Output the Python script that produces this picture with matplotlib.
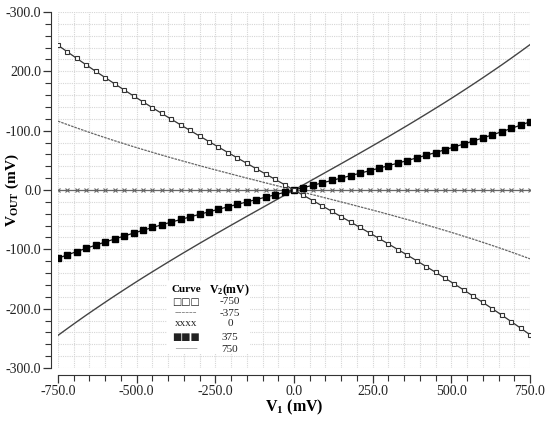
import matplotlib
matplotlib.use("Agg")
import matplotlib.pyplot as plt
from matplotlib.ticker import MultipleLocator, FixedLocator, FixedFormatter
from matplotlib.patches import Rectangle

plt.rcParams['font.family'] = ['Liberation Serif', 'DejaVu Sans']
plt.rcParams['mathtext.fontset'] = 'custom'
plt.rcParams['mathtext.rm'] = 'Liberation Serif'
plt.rcParams['mathtext.bf'] = 'Liberation Serif:bold'

# V1 sweep (mV), one point every 30 mV
v1 = list(range(-750, 751, 30))

half_750 = [0, 8.8, 17.7, 26.6, 35.5, 44.4, 53.4, 62.4, 71.5, 80.7, 89.9, 99.3, 108.7,
            118.3, 128.0, 137.8, 147.7, 157.8, 168.1, 178.5, 189.1, 199.9, 210.8,
            222.0, 233.4, 245.0]
half_m750 = [0, 9.0, 17.9, 26.9, 35.9, 45.0, 54.0, 63.2, 72.3, 81.6, 90.9, 100.3, 109.7,
             119.3, 129.0, 138.7, 148.6, 158.6, 168.7, 179.0, 189.4, 200.0, 210.7,
             221.7, 232.7, 244.0]
half_375 = [0, 4.0, 8.0, 12.0, 16.1, 20.1, 24.2, 28.3, 32.5, 36.7, 41.0, 45.3, 49.7,
            54.1, 58.6, 63.2, 67.9, 72.7, 77.6, 82.6, 87.7, 92.9, 98.2, 103.7, 109.3, 115.0]
half_m375 = [0, 4.0, 8.0, 12.0, 16.1, 20.1, 24.2, 28.4, 32.5, 36.7, 41.0, 45.4, 49.8,
             54.2, 58.8, 63.5, 68.2, 73.0, 78.0, 83.0, 88.2, 93.5, 98.9, 104.5, 110.2, 116.0]

def full(h, sign):
    neg = [-v for v in reversed(h[1:])]
    vals = neg + h
    return [sign * v for v in vals]

vout_m750 = full(half_m750, -1)
vout_m375 = full(half_m375, -1)
vout_0 = [0.0] * len(v1)
vout_375 = full(half_375, 1)
vout_750 = full(half_750, 1)

ytick_vals = [-300, -200, -100, 0, 100, 200, 300]
ytick_labels = ["-300.0", "-200.0", "-100.0", "0.0", "-100.0", "200.0", "-300.0"]
xtick_vals = [-750, -500, -250, 0, 250, 500, 750]
xtick_labels = ["-750.0", "-500.0", "-250.0", "0.0", "250.0", "500.0", "750.0"]

legend_syms = ["□□□", "------", "xxxx", "■■■", "——"]
legend_vals = ["-750", "-375", "0", "375", "750"]

W, H = 545, 421
fig = plt.figure(figsize=(W / 100, H / 100), dpi=100)
ax = fig.add_axes([58 / W, 1 - 368 / H, 472 / W, 356 / H])

def P(px, py):
    return (px / W, 1 - py / H)

ax.set_xlim(-750, 750)
ax.set_ylim(-300, 300)

ax.xaxis.set_major_locator(FixedLocator(xtick_vals))
ax.xaxis.set_major_formatter(FixedFormatter(xtick_labels))
ax.xaxis.set_minor_locator(MultipleLocator(50))
ax.yaxis.set_major_locator(FixedLocator(ytick_vals))
ax.yaxis.set_major_formatter(FixedFormatter(ytick_labels))
ax.yaxis.set_minor_locator(MultipleLocator(20))

ax.grid(True, which='both', color='#d6d6d6', linestyle=(0, (1, 1)), linewidth=0.8)
ax.set_axisbelow(True)

for s in ['top', 'right']:
    ax.spines[s].set_visible(False)
ax.spines['left'].set_position(('outward', 5))
ax.spines['bottom'].set_position(('outward', 5))
ax.spines['left'].set_color('#333333')
ax.spines['bottom'].set_color('#333333')

ax.tick_params(which='major', length=6, width=0.9, color='#333333', labelsize=10,
               labelcolor='#222222')
ax.tick_params(which='minor', length=4, width=0.8, color='#333333')
ax.tick_params(axis='x', pad=1)
ax.tick_params(axis='y', pad=1)

ax.plot(v1, vout_750, color='#444444', lw=1.0)
ax.plot(v1, vout_m375, color='#666666', lw=0.9, linestyle=(0, (2, 0.8)))
ax.plot(v1, vout_0, color='#666666', lw=0.9, marker='x', ms=3.5, mew=0.8)
ax.plot(v1, vout_375, color='#111111', lw=0.9, marker='s', ms=3.8, mfc='#000000', mec='#000000')
ax.plot(v1, vout_m750, color='#333333', lw=0.9, marker='s', ms=3.5, mfc='white', mec='#333333', mew=0.8)

ax.set_xlabel(r'$\mathbf{V_1}$ (mV)', fontsize=11.5, fontweight='bold')
ax.xaxis.set_label_coords(*P(294, 407), transform=fig.transFigure)
ax.set_ylabel(r'$\mathbf{V_{OUT}}$ (mV)', fontsize=11, fontweight='bold')
ax.yaxis.set_label_coords(*P(12, 190), transform=fig.transFigure)
ax.xaxis.label.set_va('center')
ax.yaxis.label.set_va('center')

# legend block
x0, y0 = P(167, 354)
x1, y1 = P(250, 281)
fig.patches.append(Rectangle((x0, y0), x1 - x0, y1 - y0, transform=fig.transFigure,
                             facecolor='white', edgecolor='none', zorder=5))
fig.text(*P(186, 290), "Curve", ha='center', va='center', fontsize=8, fontweight='bold', zorder=6)
fig.text(*P(229, 290), r'$\mathbf{V_2}$(mV)', ha='center', va='center', fontsize=8.5,
         fontweight='bold', zorder=6)
rows_y = [302, 313, 324, 337, 349]
for sym, val, ry in zip(legend_syms, legend_vals, rows_y):
    fam = ['DejaVu Sans'] if sym in ("□□□", "■■■") else ['Liberation Serif', 'DejaVu Sans']
    fs = 7 if sym in ("□□□", "■■■") else 8
    col = '#777777' if sym in ("------", "——") else '#222222'
    fig.text(*P(186, ry), sym, ha='center', va='center', fontsize=fs, family=fam,
             color=col, zorder=6)
    fig.text(*P(230, ry), val, ha='center', va='center', fontsize=8, color='#222222', zorder=6)

fig.savefig('out.png', dpi=100)
